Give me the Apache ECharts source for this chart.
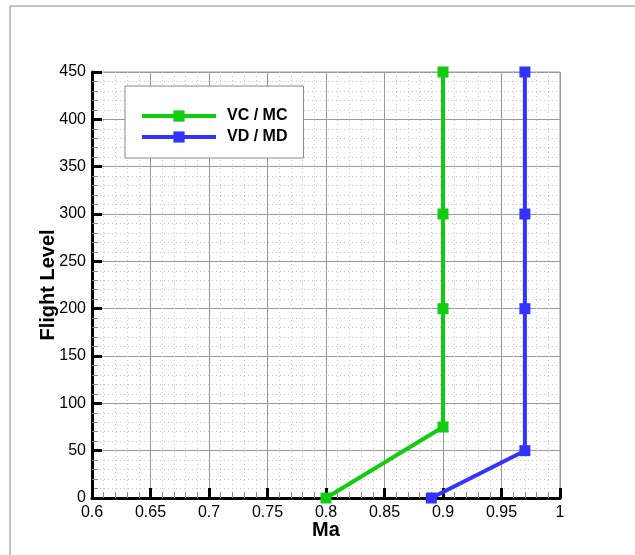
<!DOCTYPE html>
<html>
<head>
<meta charset="utf-8">
<script src="https://cdn.jsdelivr.net/npm/echarts@6/dist/echarts.min.js"></script>
<style>
html,body{margin:0;padding:0;background:#fff;}
#c{width:635px;height:555px;}
</style>
</head>
<body>
<div id="c"></div>
<script>
const seriesNames = ['VC / MC', 'VD / MD'];
const vcMa = [0.8, 0.9, 0.9, 0.9, 0.9];
const vcFL = [0, 75, 200, 300, 450];
const vdMa = [0.89, 0.97, 0.97, 0.97, 0.97];
const vdFL = [0, 50, 200, 300, 450];
const xTicks = [0.6, 0.65, 0.7, 0.75, 0.8, 0.85, 0.9, 0.95, 1];
const yTicks = [0, 50, 100, 150, 200, 250, 300, 350, 400, 450];

const chart = echarts.init(document.getElementById('c'), null, {renderer: 'canvas'});
const font = 'Liberation Sans, Arial, Helvetica, sans-serif';
function pairs(xs, ys) { return xs.map((x, i) => [x, ys[i]]); }

const axisCommon = {
  axisLine: {show: true, onZero: false, lineStyle: {color: '#000', width: 3}},
  axisTick: {show: true, inside: true, length: 10, lineStyle: {color: '#000', width: 3}},
  minorTick: {show: true, splitNumber: 5, length: 6, lineStyle: {color: '#888', width: 1}},
  splitLine: {show: true, lineStyle: {color: '#999', width: 1}},
  minorSplitLine: {show: true, lineStyle: {color: '#ccc', width: 1, type: [1, 3]}},
  axisLabel: {color: '#000', fontSize: 16, fontFamily: font},
  nameMoveOverlap: false,
  nameTextStyle: {color: '#000', fontSize: 20, fontWeight: 'bold', fontFamily: font}
};

chart.setOption({
  backgroundColor: '#fff',
  animation: false,
  graphic: [{
    type: 'rect', z: -10,
    shape: {x: 10, y: 6, width: 700, height: 700},
    style: {fill: 'none', stroke: '#888', lineWidth: 1}
  }],
  grid: {left: 92, right: 75, top: 72, bottom: 57, show: true, borderColor: '#999', borderWidth: 1},
  legend: {
    orient: 'vertical',
    left: 125, top: 86,
    padding: [22, 16, 13, 15],
    itemWidth: 74, itemHeight: 14, itemGap: 5,
    backgroundColor: '#fff',
    borderColor: '#888', borderWidth: 1,
    lineStyle: {width: 4},
    textStyle: {color: '#000', fontSize: 16, fontWeight: 'bold', fontFamily: font, padding: [0, 0, 0, 6]},
    data: seriesNames
  },
  xAxis: Object.assign({}, axisCommon, {
    type: 'value', min: xTicks[0], max: xTicks[xTicks.length - 1], interval: 0.05,
    name: 'Ma', nameLocation: 'middle', nameGap: 22,
    axisLabel: Object.assign({}, axisCommon.axisLabel, {margin: 7, formatter: v => String(+v.toFixed(2))})
  }),
  yAxis: Object.assign({}, axisCommon, {
    type: 'value', min: yTicks[0], max: yTicks[yTicks.length - 1], interval: 50,
    name: 'Flight Level', nameLocation: 'middle', nameGap: 34,
    axisLabel: Object.assign({}, axisCommon.axisLabel, {margin: 6})
  }),
  series: [
    {name: seriesNames[0], type: 'line', data: pairs(vcMa, vcFL), color: '#11cc11',
     lineStyle: {width: 4}, symbol: 'rect', symbolSize: 11, clip: false, z: 3},
    {name: seriesNames[1], type: 'line', data: pairs(vdMa, vdFL), color: '#3333ff',
     lineStyle: {width: 4}, symbol: 'rect', symbolSize: 11, clip: false, z: 3}
  ]
});
</script>
</body>
</html>
